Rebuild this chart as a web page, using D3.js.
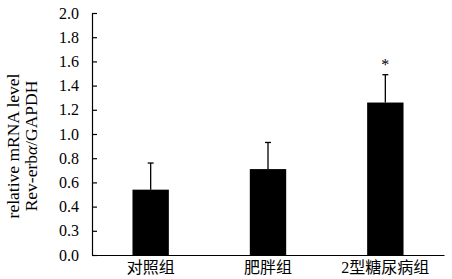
<!DOCTYPE html>
<html>
<head>
<meta charset="utf-8">
<script src="https://cdn.jsdelivr.net/npm/d3@7"></script>
<style>
  body { margin: 0; background: #fff; }
  text { font-family: "Liberation Serif", "Noto Sans CJK SC", serif; fill: #000; }
</style>
</head>
<body>
<div id="chart"></div>
<script>
// groups and values
const groups = ["对照组", "肥胖组", "2型糖尿病组"];
const means = [0.54, 0.71, 1.26];
const errors = [0.22, 0.22, 0.23];
const marks = ["", "", "*"];
// the original figure labels the 0.2 tick as "0.3"
const tickValues = [0, 0.2, 0.4, 0.6, 0.8, 1.0, 1.2, 1.4, 1.6, 1.8, 2.0];
const tickLabels = ["0.0", "0.3", "0.4", "0.6", "0.8", "1.0", "1.2", "1.4", "1.6", "1.8", "2.0"];

const width = 452, height = 279;
const margin = { top: 13, right: 8, bottom: 24, left: 92 };

const svg = d3.select("#chart")
    .append("svg")
    .attr("width", width)
    .attr("height", height);

const x = d3.scaleBand()
    .domain(groups)
    .range([margin.left, width - margin.right])
    .paddingInner(0.69)
    .paddingOuter(0.345);

const y = d3.scaleLinear()
    .domain([0, 2])
    .range([height - margin.bottom, margin.top]);

// bars
svg.selectAll(".bar")
    .data(groups)
    .enter()
    .append("rect")
    .attr("class", "bar")
    .attr("x", d => x(d))
    .attr("y", (d, i) => y(means[i]))
    .attr("width", x.bandwidth())
    .attr("height", (d, i) => y(0) - y(means[i]))
    .attr("fill", "#000");

// error bars (upper only)
const cx = d => x(d) + x.bandwidth() / 2;
svg.selectAll(".err")
    .data(groups)
    .enter()
    .append("line")
    .attr("x1", cx).attr("x2", cx)
    .attr("y1", (d, i) => y(means[i]))
    .attr("y2", (d, i) => y(means[i] + errors[i]))
    .attr("stroke", "#000")
    .attr("stroke-width", 1.3);

svg.selectAll(".cap")
    .data(groups)
    .enter()
    .append("line")
    .attr("x1", d => cx(d) - 3).attr("x2", d => cx(d) + 3)
    .attr("y1", (d, i) => y(means[i] + errors[i]))
    .attr("y2", (d, i) => y(means[i] + errors[i]))
    .attr("stroke", "#000")
    .attr("stroke-width", 1.3);

// significance marks
svg.selectAll(".mark")
    .data(groups)
    .enter()
    .append("text")
    .attr("x", cx)
    .attr("y", (d, i) => y(means[i] + errors[i]) - 5)
    .attr("text-anchor", "middle")
    .style("font-size", "16px")
    .text((d, i) => marks[i]);

// y axis, ticks pointing inward
const yAxis = svg.append("g")
    .attr("transform", `translate(${margin.left},0)`)
    .call(d3.axisRight(y)
        .tickValues(tickValues)
        .tickSize(5)
        .tickSizeOuter(0)
        .tickFormat((d, i) => tickLabels[i]));
yAxis.select(".domain").attr("stroke", "#000").attr("stroke-width", 1.2);
yAxis.selectAll(".tick line").attr("stroke", "#000").attr("stroke-width", 1.2);
yAxis.selectAll(".tick text")
    .attr("x", -13)
    .attr("text-anchor", "end")
    .style("font-size", "16px");

// x axis
const xAxis = svg.append("g")
    .attr("transform", `translate(0,${y(0)})`)
    .call(d3.axisBottom(x).tickSize(0).tickSizeOuter(0));
xAxis.select(".domain").attr("stroke", "#000").attr("stroke-width", 1.2);
xAxis.selectAll(".tick text")
    .attr("dy", "0.9em")
    .attr("y", 4)
    .style("font-size", "16px");

// y title, two rotated lines
const title = svg.append("text")
    .attr("transform", `translate(0,${(margin.top + y(0)) / 2 + 12}) rotate(-90)`)
    .attr("text-anchor", "middle")
    .style("font-size", "17.5px");
title.append("tspan").attr("x", 0).attr("y", 19).text("relative mRNA level");
const t2 = title.append("tspan").attr("x", 0).attr("y", 37);
t2.append("tspan").text("Rev-erb");
t2.append("tspan").style("font-style", "italic").text("α");
t2.append("tspan").text("/GAPDH");
</script>
</body>
</html>
